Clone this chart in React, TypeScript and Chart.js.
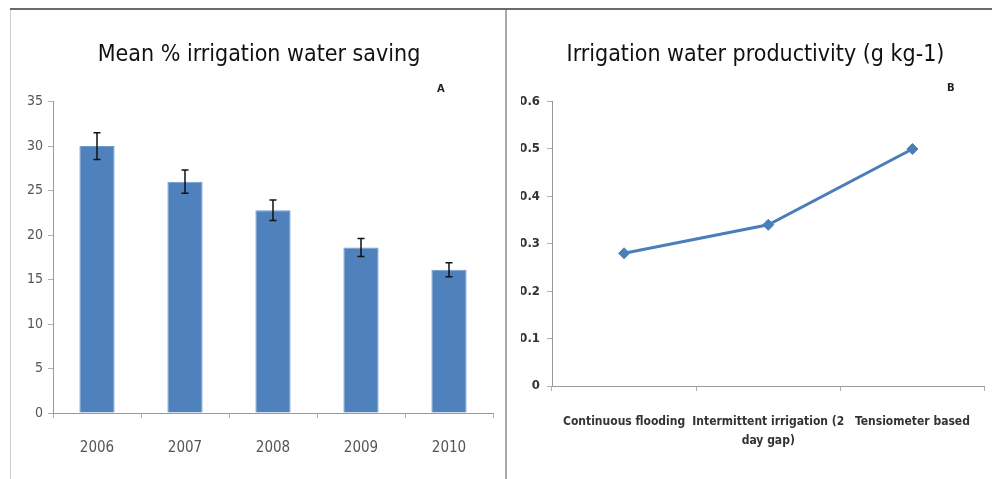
import React, { useEffect, useRef } from "react";
import { Chart, registerables } from "chart.js";
Chart.register(...registerables);

// ---- data ----
const years = ["2006", "2007", "2008", "2009", "2010"];
const savingMean = [30, 26, 22.8, 18.6, 16.1];
const savingErr = [1.5, 1.3, 1.15, 1.0, 0.8];
const savingTicks = [0, 5, 10, 15, 20, 25, 30, 35];

const methods = ["Continuous flooding", ["Intermittent irrigation (2", "day gap)"], "Tensiometer based"];
const productivity = [0.28, 0.34, 0.5];
const productivityTicks = [0, 0.1, 0.2, 0.3, 0.4, 0.5, 0.6];

const NARROW = "'DejaVu Sans Condensed', 'Liberation Sans Narrow', Roboto, sans-serif";

const errorBarPlugin = {
  id: "errorBars",
  afterDatasetsDraw(chart: any) {
    const meta = chart.getDatasetMeta(0);
    const y = chart.scales.y;
    const ctx = chart.ctx;
    ctx.save();
    ctx.strokeStyle = "#111";
    ctx.lineWidth = 1.5;
    meta.data.forEach((bar: any, i: number) => {
      const x = bar.x;
      const top = y.getPixelForValue(savingMean[i] + savingErr[i]);
      const bot = y.getPixelForValue(savingMean[i] - savingErr[i]);
      ctx.beginPath();
      ctx.moveTo(x, top);
      ctx.lineTo(x, bot);
      ctx.moveTo(x - 3.5, top);
      ctx.lineTo(x + 3.5, top);
      ctx.moveTo(x - 3.5, bot);
      ctx.lineTo(x + 3.5, bot);
      ctx.stroke();
    });
    ctx.restore();
  },
};

function BarChart() {
  const ref = useRef<HTMLCanvasElement>(null);
  useEffect(() => {
    const chart = new Chart(ref.current as HTMLCanvasElement, {
      type: "bar",
      data: {
        labels: years,
        datasets: [
          {
            data: savingMean,
            backgroundColor: "#4F81BD",
            borderColor: "#6F9AD0",
            borderWidth: 1,
            categoryPercentage: 1,
            barPercentage: 0.4,
          },
        ],
      },
      options: {
        responsive: false,
        animation: false,
        devicePixelRatio: 1,
        layout: { padding: { left: 13, right: 9, top: 0, bottom: 0 } },
        plugins: {
          legend: { display: false },
          tooltip: { enabled: false },
          title: {
            display: true,
            text: "Mean % irrigation water saving",
            color: "#111",
            font: { family: NARROW, size: 23, weight: "normal" },
            padding: { top: 31, bottom: 33 },
          },
        },
        scales: {
          x: {
            grid: { display: true, drawOnChartArea: false, drawTicks: true, tickLength: 5, color: "#b0b0b0", offset: true },
            border: { display: true, color: "#9a9a9a" },
            ticks: { color: "#555", font: { family: NARROW, size: 15 }, padding: 21 },
            afterFit: (s: any) => {
              s.height = 64;
            },
          },
          y: {
            min: 0,
            max: 35,
            afterBuildTicks: (s: any) => {
              s.ticks = savingTicks.map((v) => ({ value: v }));
            },
            afterFit: (s: any) => {
              s.width = 28;
            },
            grid: { display: true, drawOnChartArea: false, drawTicks: true, tickLength: 5, color: "#b0b0b0" },
            border: { display: true, color: "#9a9a9a" },
            ticks: { color: "#555", font: { family: NARROW, size: 14 }, padding: 5 },
          },
        },
      },
      plugins: [errorBarPlugin],
    } as any);
    return () => chart.destroy();
  }, []);
  return <canvas ref={ref} width={490} height={467} />;
}

function LineChart() {
  const ref = useRef<HTMLCanvasElement>(null);
  useEffect(() => {
    const chart = new Chart(ref.current as HTMLCanvasElement, {
      type: "line",
      data: {
        labels: methods as any,
        datasets: [
          {
            data: productivity,
            borderColor: "#4A7EBB",
            backgroundColor: "#4A7EBB",
            borderWidth: 3,
            pointStyle: "rectRot",
            pointRadius: 5.5,
            pointBorderWidth: 1,
            tension: 0,
          },
        ],
      },
      options: {
        responsive: false,
        animation: false,
        devicePixelRatio: 1,
        layout: { padding: { left: 14, right: 2, top: 0, bottom: 0 } },
        plugins: {
          legend: { display: false },
          tooltip: { enabled: false },
          title: {
            display: true,
            text: "Irrigation water productivity (g kg-1)",
            color: "#111",
            font: { family: NARROW, size: 23, weight: "normal" },
            padding: { top: 31, bottom: 33 },
          },
        },
        scales: {
          x: {
            offset: true,
            grid: { display: true, drawOnChartArea: false, drawTicks: true, tickLength: 5, color: "#b0b0b0", offset: true },
            border: { display: true, color: "#9a9a9a" },
            ticks: { color: "#333", font: { family: NARROW, size: 12, weight: "bold", lineHeight: 1.6 }, padding: 21, maxRotation: 0, autoSkip: false },
            afterFit: (s: any) => {
              s.height = 91;
            },
          },
          y: {
            min: 0,
            max: 0.6,
            afterBuildTicks: (s: any) => {
              s.ticks = productivityTicks.map((v) => ({ value: v }));
            },
            afterFit: (s: any) => {
              s.width = 31;
            },
            grid: { display: true, drawOnChartArea: false, drawTicks: true, tickLength: 5, color: "#b0b0b0" },
            border: { display: true, color: "#9a9a9a" },
            ticks: { color: "#333", font: { family: NARROW, size: 13, weight: "bold" }, padding: 7 },
          },
        },
      },
    } as any);
    return () => chart.destroy();
  }, []);
  return <canvas ref={ref} width={485} height={467} />;
}

export default function App() {
  return (
    <div style={{ position: "absolute", left: 0, top: 0, width: 992, height: 479, background: "#fff", overflow: "hidden" }}>
      <div style={{ position: "absolute", left: 10, top: 8, width: 982, height: 2, background: "#6a6a6a" }} />
      <div style={{ position: "absolute", left: 10, top: 10, width: 1, height: 469, background: "#cfcfcf" }} />
      <div style={{ position: "absolute", left: 505, top: 10, width: 2, height: 469, background: "#a8a8a8" }} />
      <div style={{ position: "absolute", left: 12, top: 10 }}>
        <BarChart />
      </div>
      <div style={{ position: "absolute", left: 507, top: 10 }}>
        <LineChart />
      </div>
      <div style={{ position: "absolute", left: 437, top: 83, font: "bold 10px 'DejaVu Sans', sans-serif", color: "#222" }}>A</div>
      <div style={{ position: "absolute", left: 947, top: 82, font: "bold 10px 'DejaVu Sans', sans-serif", color: "#222" }}>B</div>
    </div>
  );
}
